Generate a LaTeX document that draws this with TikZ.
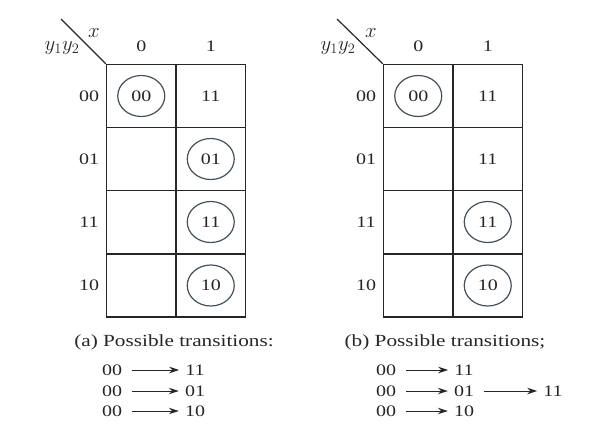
\documentclass[tikz,border=0pt]{standalone}
\usepackage{fontspec}
\setmainfont{Liberation Serif}[FakeStretch=1.25]
\usetikzlibrary{shapes.geometric, arrows.meta, positioning}
\definecolor{ink}{HTML}{262626}
\definecolor{ringgray}{HTML}{46505A}

\begin{document}
\begin{tikzpicture}[x=1pt, y=-1pt,
  cell/.style={draw=ink, line width=1.4pt, minimum width=69.5pt, minimum height=63pt, inner sep=0pt, font=\fontsize{16}{18}\selectfont, text=ink},
  ring/.style={ellipse, draw=ringgray, line width=1.2pt, minimum width=47pt, minimum height=41pt, inner sep=0pt, font=\fontsize{16}{18}\selectfont, text=ink},
  lbl/.style={font=\fontsize{16}{18}\selectfont, text=ink, inner sep=1pt},
  mlbl/.style={font=\fontsize{20}{22}\selectfont, text=ink, inner sep=1pt},
  capt/.style={font=\fontsize{17}{19}\selectfont, text=ink},
  arr/.style={-{Stealth[length=10pt, width=6.5pt]}, line width=1pt, draw=ink, shorten <=9pt, shorten >=5pt}
]
\useasboundingbox (0,0) rectangle (600,437);

% map (a)
\node[cell] (a00c0) at (141.25,96) {};
\node[cell] (a00c1) at (210.75,96) {11};
\node[cell] (a01c0) at (141.25,159) {};
\node[cell] (a01c1) at (210.75,159) {};
\node[cell] (a11c0) at (141.25,222) {};
\node[cell] (a11c1) at (210.75,222) {};
\node[cell] (a10c0) at (141.25,285.5) {};
\node[cell] (a10c1) at (210.75,285.5) {};
\node[ring] (ra00) at (a00c0) {00};
\node[ring] (ra01) at (a01c1) {01};
\node[ring] (ra11) at (a11c1) {11};
\node[ring] (ra10) at (a10c1) {10};

\node[lbl] (ahx0) at (141.25,46) {0};
\node[lbl] (ahx1) at (210.75,46) {1};
\node[lbl] (ahy00) at (89,96) {00};
\node[lbl] (ahy01) at (89,159) {01};
\node[lbl] (ahy11) at (89,222) {11};
\node[lbl] (ahy10) at (89,285.5) {10};
\coordinate (adiag) at (61,19);
\draw[ink, line width=1.2pt] (adiag) -- (a00c0.north west);
\node[mlbl] (ahy) at (62,48) {$y_1y_2$};
\node[mlbl] (ahx) at (94,33) {$x$};

% map (b)
\node[cell] (b00c0) at (418.25,96) {};
\node[cell] (b00c1) at (487.75,96) {11};
\node[cell] (b01c0) at (418.25,159) {};
\node[cell] (b01c1) at (487.75,159) {11};
\node[cell] (b11c0) at (418.25,222) {};
\node[cell] (b11c1) at (487.75,222) {};
\node[cell] (b10c0) at (418.25,285.5) {};
\node[cell] (b10c1) at (487.75,285.5) {};
\node[ring] (rb00) at (b00c0) {00};
\node[ring] (rb11) at (b11c1) {11};
\node[ring] (rb10) at (b10c1) {10};

\node[lbl] (bhx0) at (418.25,46) {0};
\node[lbl] (bhx1) at (487.75,46) {1};
\node[lbl] (bhy00) at (366,96) {00};
\node[lbl] (bhy01) at (366,159) {01};
\node[lbl] (bhy11) at (366,222) {11};
\node[lbl] (bhy10) at (366,285.5) {10};
\coordinate (bdiag) at (337,19);
\draw[ink, line width=1.2pt] (bdiag) -- (b00c0.north west);
\node[mlbl] (bhy) at (338,48) {$y_1y_2$};
\node[mlbl] (bhx) at (371,33) {$x$};

% captions
\node[capt] (capa) at (174,342) {(a) Possible transitions:};
\node[capt] (capb) at (445,342) {(b) Possible transitions;};

% transitions (a)
\node[lbl] (ta1s) at (112,370) {00};
\node[lbl] (ta1t) at (195,370) {11};
\node[lbl] (ta2s) at (112,391) {00};
\node[lbl] (ta2t) at (195,391) {01};
\node[lbl] (ta3s) at (112,411) {00};
\node[lbl] (ta3t) at (195,411) {10};
\draw[arr] (ta1s) -- (ta1t);
\draw[arr] (ta2s) -- (ta2t);
\draw[arr] (ta3s) -- (ta3t);

% transitions (b)
\node[lbl] (tb1s) at (386,370) {00};
\node[lbl] (tb1t) at (464,370) {11};
\node[lbl] (tb2s) at (386,391) {00};
\node[lbl] (tb2t) at (464,391) {01};
\node[lbl] (tb2u) at (553,391) {11};
\node[lbl] (tb3s) at (386,411) {00};
\node[lbl] (tb3t) at (464,411) {10};
\draw[arr] (tb1s) -- (tb1t);
\draw[arr] (tb2s) -- (tb2t);
\draw[arr] (tb2t) -- (tb2u);
\draw[arr] (tb3s) -- (tb3t);
\end{tikzpicture}
\end{document}
